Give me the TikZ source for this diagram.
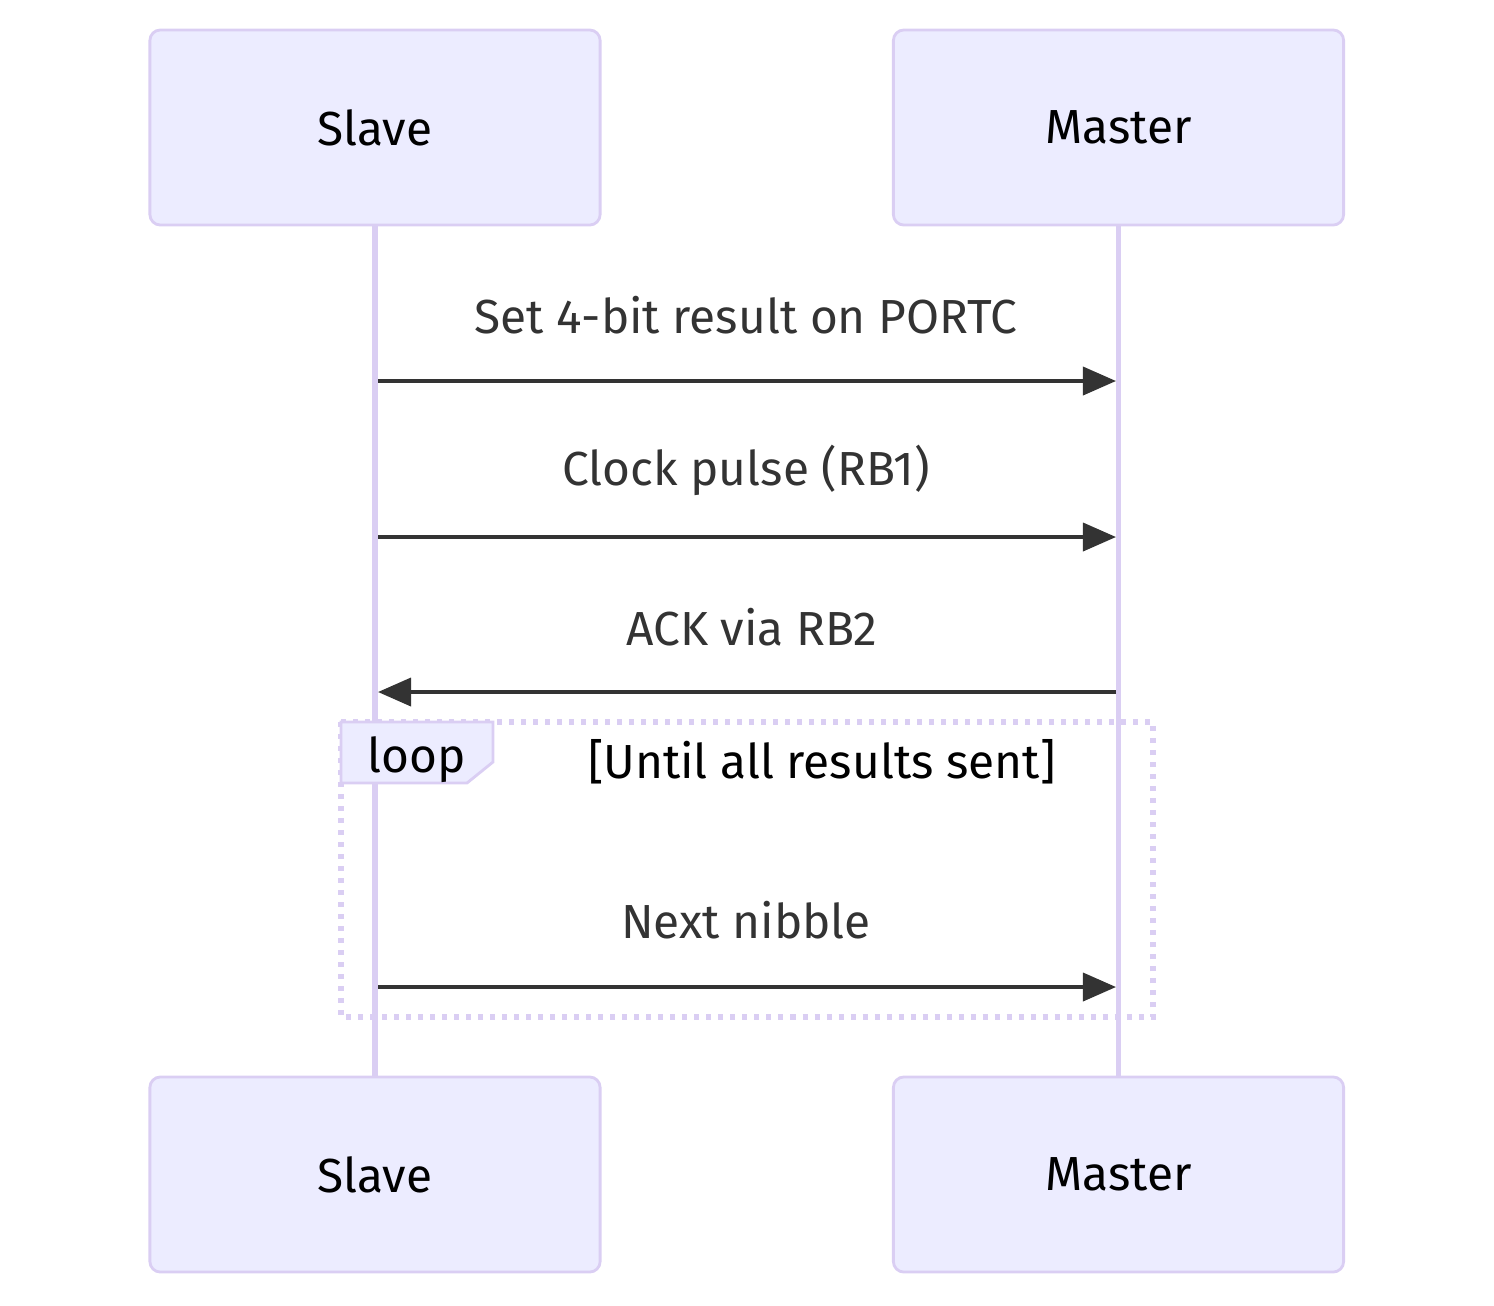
\documentclass[tikz,border=0pt]{standalone}
\usepackage{fontspec}
\setmainfont{Fira Sans}
\usetikzlibrary{arrows.meta}
\definecolor{actfill}{HTML}{ECECFF}
\definecolor{actline}{HTML}{DACEF3}
\definecolor{msggray}{HTML}{333333}

\begin{document}
\begin{tikzpicture}[x=0.01cm,y=-0.01cm,
    actor/.style={draw=actline, fill=actfill, line width=0.8pt, rounded corners=3pt,
      minimum width=4.5cm, minimum height=1.95cm, font=\fontsize{13.6}{16}\selectfont},
    lifeline/.style={actline, line width=1.5pt},
    msgline/.style={msggray, line width=1.05pt, -{Triangle[length=0.33cm,width=0.28cm]}},
    msgtext/.style={text=msggray, font=\fontsize{13.6}{16}\selectfont},
    looptext/.style={font=\fontsize{13.6}{16}\selectfont}]
  \useasboundingbox (0,0) rectangle (1494,1305);
  \node[actor] (slaveTop) at (375,127.5) {Slave};
  \node[actor] (masterTop) at (1118.5,127.5) {Master};
  \node[actor] (slaveBot) at (375,1174.5) {Slave};
  \node[actor] (masterBot) at (1118.5,1174.5) {Master};
  \draw[lifeline] (slaveTop) -- (slaveBot);
  \draw[lifeline] (masterTop) -- (masterBot);
  \foreach \y/\n in {381/1, 537/2, 692/3, 987/4}{
      \coordinate (s\n) at (375,\y);
      \coordinate (m\n) at (1118,\y);
  }
  \node[msgtext] (lbl1) at (746,315) {Set 4-bit result on PORTC};
  \node[msgtext] (lbl2) at (746,470) {Clock pulse (RB1)};
  \node[msgtext] (lbl3) at (752,627) {ACK via RB2};
  \node[msgtext] (lbl4) at (746,920) {Next nibble};
  \draw[msgline, shorten <=0.03cm, shorten >=0.02cm] (s1) -- (m1);
  \draw[msgline, shorten <=0.03cm, shorten >=0.02cm] (s2) -- (m2);
  \draw[msgline, shorten <=0.02cm, shorten >=0.03cm] (m3) -- (s3);
  \draw[actline, line width=1.6pt, dash pattern=on 0.05cm off 0.07cm] (341,722) rectangle (1153,1017);
  \draw[actline, fill=actfill, line width=0.8pt] (341,722) -- (493,722) -- (493,762) -- (467,783) -- (341,783) -- cycle;
  \node[looptext] (loopkw) at (417,760) {loop};
  \node[looptext] (loopcond) at (822,762) {[Until all results sent]};
  \draw[msgline, shorten <=0.03cm, shorten >=0.02cm] (s4) -- (m4);
\end{tikzpicture}
\end{document}
